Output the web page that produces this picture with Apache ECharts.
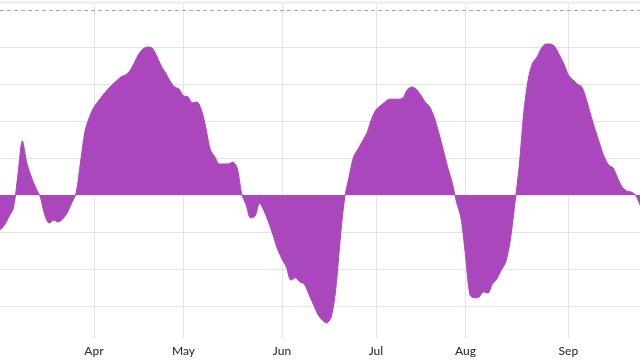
<!DOCTYPE html>
<html>
<head>
<meta charset="utf-8">
<style>
  html, body { margin: 0; padding: 0; background: #ffffff; }
  #chart { width: 640px; height: 360px; }
</style>
<script src="https://cdn.jsdelivr.net/npm/echarts@6/dist/echarts.min.js"></script>
</head>
<body>
<div id="chart"></div>
<script>
// Daily values (one per trading day)
const values = [
  -9.5, -8.1, -5.9, -3.5, 5.4, 14.6, 8.6, 4.9, 1.9, -0.5,
  -5.4, -7.6, -6.8, -7.3, -6.5, -4.9, -2.2, 0.5, 8.9, 17.3,
  21.1, 23.8, 25.4, 27.0, 28.4, 29.7, 30.8, 31.9, 32.4, 33.5,
  35.7, 38.1, 39.5, 40.0, 39.7, 37.6, 34.9, 33.0, 30.8, 29.2,
  28.6, 26.8, 26.5, 24.9, 25.1, 23.0, 18.1, 12.2, 10.3, 8.4,
  8.4, 8.4, 8.9, 7.3, 0.3, -2.7, -6.2, -5.7, -2.2, -4.3,
  -7.3, -10.8, -14.6, -17.3, -19.5, -23.0, -22.4, -23.5, -24.1, -26.8,
  -29.5, -32.2, -33.8, -34.6, -33.0, -25.7, -12.2, -0.8, 4.9, 10.3,
  12.4, 14.6, 16.8, 20.5, 23.0, 24.1, 25.1, 25.9, 25.9, 25.9,
  26.2, 28.4, 29.2, 28.6, 27.0, 25.1, 23.8, 21.1, 17.0, 12.4,
  7.6, 3.5, -1.9, -6.2, -16.2, -27.0, -27.8, -27.6, -26.2, -26.5,
  -24.1, -22.7, -20.3, -18.1, -12.4, -2.7, 7.6, 21.9, 31.1, 35.7,
  37.3, 39.7, 40.8, 40.8, 40.0, 37.8, 35.4, 32.4, 31.1, 30.0,
  29.2, 25.9, 21.6, 17.6, 13.8, 10.3, 8.1, 7.3, 4.6, 2.2,
  1.1, 0.8, 0.0, -2.7
];

// Month tick labels and the day index where each month starts
const monthLabels = ['Apr', 'May', 'Jun', 'Jul', 'Aug', 'Sep'];
const monthStartIndex = [21, 41, 63, 84, 104, 127];

// Horizontal grid values
const gridValues = [-30, -20, -10, 0, 10, 20, 30, 40];
const dashedValue = 50;
const yMin = -38.65;
const yMax = 52.16;

const categories = values.map((v, i) => String(i));
const isMonthStart = (index) => monthStartIndex.indexOf(index) >= 0;

const chart = echarts.init(document.getElementById('chart'), null, { renderer: 'canvas' });

const gridLineData = gridValues.map(v => ({
  yAxis: v,
  lineStyle: { color: '#e4e4e4', width: 1, type: 'solid' }
}));
gridLineData.push({
  yAxis: dashedValue,
  lineStyle: { color: '#aaaaaa', width: 1, type: [4, 3] }
});
gridLineData.push({
  yAxis: yMax,
  lineStyle: { color: '#f0f0f0', width: 3, type: 'solid' }
});

chart.setOption({
  animation: false,
  backgroundColor: '#ffffff',
  textStyle: { fontFamily: 'Lato, "Open Sans", sans-serif' },
  grid: { left: -1.8, right: -1.7, top: 2, bottom: 22, containLabel: false },
  xAxis: {
    type: 'category',
    data: categories,
    boundaryGap: false,
    axisLine: { show: false },
    axisTick: { show: false },
    axisLabel: {
      interval: (index) => isMonthStart(index),
      formatter: (value, index) => {
        const k = monthStartIndex.indexOf(Number(value));
        return k >= 0 ? monthLabels[k] : '';
      },
      color: '#333333',
      fontSize: 12,
      fontWeight: 500,
      margin: 7
    },
    splitLine: {
      show: true,
      interval: (index) => isMonthStart(index),
      lineStyle: { color: '#e4e4e4', width: 1 }
    }
  },
  yAxis: {
    type: 'value',
    min: yMin,
    max: yMax,
    axisLine: { show: false },
    axisTick: { show: false },
    axisLabel: { show: false },
    splitLine: { show: false }
  },
  series: [
    {
      type: 'line',
      data: [],
      z: 1,
      silent: true,
      markLine: {
        z: 1,
        silent: true,
        symbol: ['none', 'none'],
        label: { show: false },
        animation: false,
        data: gridLineData
      }
    },
    {
      type: 'line',
      data: values,
      z: 3,
      smooth: 0.3,
      showSymbol: false,
      symbol: 'none',
      lineStyle: { color: '#ab47bc', width: 1 },
      areaStyle: { color: '#ab47bc', opacity: 1 },
      itemStyle: { color: '#ab47bc' }
    }
  ]
});
</script>
</body>
</html>
